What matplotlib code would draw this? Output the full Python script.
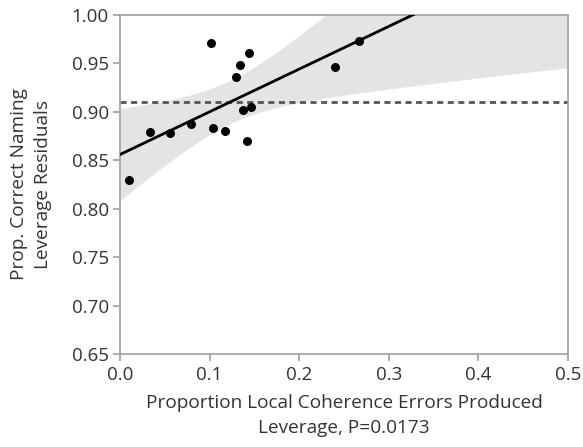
import numpy as np
import matplotlib
matplotlib.use("Agg")
import matplotlib.pyplot as plt

# Data
x_vals = [0.0104, 0.0335, 0.0554, 0.0789, 0.1012, 0.1034, 0.1168, 0.1295,
          0.1336, 0.1443, 0.1376, 0.1462, 0.1417, 0.2400, 0.2671]
y_vals = [0.830, 0.879, 0.8785, 0.887, 0.9708, 0.883, 0.880, 0.9364,
          0.9484, 0.9604, 0.9023, 0.9053, 0.870, 0.9467, 0.9728]
x_ticks = [0.0, 0.1, 0.2, 0.3, 0.4, 0.5]
y_ticks = [0.65, 0.70, 0.75, 0.80, 0.85, 0.90, 0.95, 1.00]
band_mult = 2.7  # width multiplier of the confidence curves

x = np.array(x_vals)
y = np.array(y_vals)
n = len(x)
b1, b0 = np.polyfit(x, y, 1)
resid = y - (b0 + b1 * x)
s = np.sqrt(np.sum(resid**2) / (n - 2))
xg = np.linspace(0, 0.5, 300)
yg = b0 + b1 * xg
se = s * np.sqrt(1.0 / n + (xg - x.mean())**2 / np.sum((x - x.mean())**2))

plt.rcParams['font.family'] = ['Open Sans', 'DejaVu Sans']
fig = plt.figure(figsize=(5.83, 4.47), dpi=100)
ax = fig.add_axes([120/583, 1 - 354/447, 448/583, 339/447])

ax.fill_between(xg, yg - band_mult * se, yg + band_mult * se, color='#e4e4e4', lw=0, zorder=1)
ax.axhline(y.mean(), color='#555555', lw=2, ls=(0, (2.2, 1.6)), zorder=2)
ax.plot(xg, yg, color='black', lw=2, zorder=3)
ax.scatter(x, y, s=42, color='black', zorder=4, linewidths=0)

ax.set_xlim(0, 0.5)
ax.set_ylim(0.65, 1.00)
ax.set_xticks(x_ticks)
ax.set_xticklabels([f"{v:.1f}" for v in x_ticks])
ax.set_yticks(y_ticks)
ax.set_yticklabels([f"{v:.2f}" for v in y_ticks])
for sp in ax.spines.values():
    sp.set_color('#a0a0a0')
    sp.set_linewidth(1.2)
ax.tick_params(direction='out', length=5, width=1.2, color='#a0a0a0',
               labelsize=13.5, labelcolor='#333333')
ax.tick_params(axis='x', pad=4)
ax.tick_params(axis='y', pad=3)

ax.set_xlabel("Proportion Local Coherence Errors Produced\nLeverage, P=0.0173",
              fontsize=13.7, color='#333333', labelpad=7, linespacing=1.45)
ax.set_ylabel("Prop. Correct Naming\nLeverage Residuals",
              fontsize=13.7, color='#333333', labelpad=14, linespacing=1.45)

fig.savefig("out.png", dpi=100)
